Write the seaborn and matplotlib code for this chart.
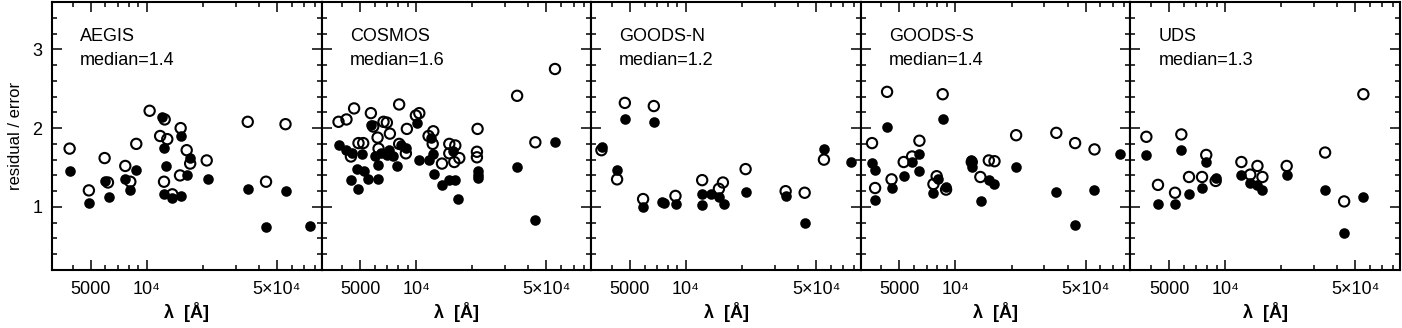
import pandas as pd
import seaborn as sns
import matplotlib.pyplot as plt
from matplotlib.ticker import FixedLocator, FixedFormatter, MultipleLocator, NullFormatter

# Fields and their median residual/error
fields = ["AEGIS", "COSMOS", "GOODS-N", "GOODS-S", "UDS"]
medians = [1.4, 1.6, 1.2, 1.4, 1.3]

# Values (wavelength in Angstrom, residual / error)
aegis_open_lam = [3855, 4892, 5943, 6194, 7674, 8166, 8790, 10370, 11810, 12490, 12900, 12390,
                  13730, 15220, 15100, 16400, 17120, 21010, 34900, 43760, 55670]
aegis_open_val = [1.74, 1.21, 1.62, 1.31, 1.52, 1.32, 1.80, 2.22, 1.90, 2.11, 1.86, 1.32,
                  1.16, 2.00, 1.40, 1.72, 1.55, 1.59, 2.08, 1.32, 2.05]
aegis_fill_lam = [3855, 4892, 5943, 6245, 7674, 8100, 8790, 12030, 12390, 12690, 12390, 13620,
                  15220, 15220, 16400, 17120, 21270, 34900, 43760, 55670, 75160]
aegis_fill_val = [1.45, 1.05, 1.33, 1.13, 1.36, 1.22, 1.47, 2.14, 1.75, 1.52, 1.17, 1.11,
                  1.14, 1.90, 1.40, 1.62, 1.36, 1.23, 0.74, 1.20, 0.76]

cosmos_open_lam = [3822, 4217, 4634, 4892, 5186, 4455, 5703, 5870, 6195, 6270, 6668, 6950,
                   7214, 8090, 8090, 8790, 8900, 9950, 10380, 11640, 12340, 12250, 13740,
                   15040, 15040, 16200, 16000, 17020, 21340, 21170, 21170, 34800, 43600, 55600]
cosmos_open_val = [2.08, 2.11, 2.25, 1.81, 1.81, 1.64, 2.19, 2.02, 1.88, 1.74, 2.08, 2.07,
                   1.93, 2.30, 1.80, 1.68, 1.99, 2.16, 2.19, 1.90, 1.96, 1.80, 1.55,
                   1.80, 1.68, 1.78, 1.57, 1.62, 1.99, 1.70, 1.63, 2.41, 1.82, 2.75]
cosmos_fill_lam = [3822, 4217, 4455, 4535, 4830, 4880, 5100, 5240, 5470, 5703, 6023, 6195,
                   6195, 6490, 6930, 7160, 7520, 7920, 8260, 8790, 10040, 10300, 11640, 12000,
                   12340, 12490, 13740, 15040, 15680, 16200, 16820, 21340, 21340, 21340,
                   34800, 43600, 55600]
cosmos_fill_val = [1.79, 1.72, 1.34, 1.68, 1.48, 1.23, 1.67, 1.46, 1.36, 2.04, 1.65, 1.53,
                   1.35, 1.68, 1.66, 1.72, 1.65, 1.52, 1.79, 1.75, 2.06, 1.59, 1.60, 1.88,
                   1.67, 1.42, 1.28, 1.34, 1.71, 1.34, 1.10, 1.45, 1.41, 1.37,
                   1.51, 0.84, 1.82]

goodsn_open_lam = [3518, 4270, 4700, 6725, 5890, 8790, 12230, 15040, 15810, 20930, 34340,
                   43450, 55150]
goodsn_open_val = [1.72, 1.35, 2.32, 2.28, 1.10, 1.14, 1.34, 1.23, 1.31, 1.48, 1.20,
                   1.18, 1.60]
goodsn_fill_lam = [3545, 4270, 4700, 6725, 5890, 7450, 7600, 8860, 12230, 12230, 13600,
                   15040, 16000, 20930, 34340, 43450, 55150, 76700]
goodsn_fill_val = [1.76, 1.47, 2.11, 2.08, 1.00, 1.06, 1.05, 1.04, 1.03, 1.17, 1.17,
                   1.12, 1.04, 1.19, 1.14, 0.79, 1.74, 1.57]

goodss_open_lam = [3562, 3700, 4290, 4535, 5270, 5845, 6400, 7613, 7920, 8535, 8900, 12230,
                   13600, 15100, 16200, 21170, 34800, 43900, 55800]
goodss_open_val = [1.81, 1.24, 2.46, 1.35, 1.57, 1.64, 1.84, 1.29, 1.39, 2.43, 1.22, 1.57,
                   1.38, 1.59, 1.58, 1.91, 1.94, 1.81, 1.73]
goodss_fill_lam = [3562, 3675, 3700, 4290, 4535, 5270, 5845, 6400, 6400, 7613, 8010, 8535,
                   8900, 12140, 12230, 13740, 15100, 16200, 21170, 34800, 43900, 55800, 76700]
goodss_fill_val = [1.56, 1.47, 1.09, 2.01, 1.24, 1.39, 1.57, 1.67, 1.46, 1.18, 1.36, 2.12,
                   1.25, 1.59, 1.51, 1.07, 1.34, 1.29, 1.51, 1.19, 0.77, 1.21, 1.67]

uds_open_lam = [3776, 4360, 5383, 5820, 6400, 7520, 7920, 8900, 12230, 13650, 14920, 15870,
                21420, 34450, 43600, 55300]
uds_open_val = [1.89, 1.28, 1.18, 1.92, 1.38, 1.38, 1.66, 1.33, 1.57, 1.41, 1.52, 1.38,
                1.52, 1.69, 1.07, 2.43]
uds_fill_lam = [3776, 4360, 5383, 5820, 6400, 7520, 7920, 8900, 12140, 13600, 14920, 15870,
                21420, 34450, 43600, 55300]
uds_fill_val = [1.66, 1.04, 1.04, 1.72, 1.16, 1.24, 1.57, 1.37, 1.41, 1.31, 1.28, 1.22,
                1.40, 1.21, 0.67, 1.13]

xtick_vals = [5000, 10000, 50000]
xtick_labels = ["5000", "10⁴", "5×10⁴"]

series = {
    "AEGIS": (aegis_open_lam, aegis_open_val, aegis_fill_lam, aegis_fill_val),
    "COSMOS": (cosmos_open_lam, cosmos_open_val, cosmos_fill_lam, cosmos_fill_val),
    "GOODS-N": (goodsn_open_lam, goodsn_open_val, goodsn_fill_lam, goodsn_fill_val),
    "GOODS-S": (goodss_open_lam, goodss_open_val, goodss_fill_lam, goodss_fill_val),
    "UDS": (uds_open_lam, uds_open_val, uds_fill_lam, uds_fill_val),
}

rows = []
for f in fields:
    ol, ov, fl, fv = series[f]
    rows += [(f, l, v, "open") for l, v in zip(ol, ov)]
    rows += [(f, l, v, "filled") for l, v in zip(fl, fv)]
df = pd.DataFrame(rows, columns=["field", "lam", "ratio", "kind"])

sns.set_style("ticks")
plt.rcParams["font.family"] = ["Liberation Sans", "DejaVu Sans"]
plt.rcParams["text.color"] = "black"
plt.rcParams["axes.labelcolor"] = "black"

fig, axes = plt.subplots(1, 5, figsize=(14.02, 3.28), dpi=100, sharey=True)
plt.subplots_adjust(left=52 / 1402, right=1400 / 1402, bottom=58 / 328, top=326 / 328, wspace=0)

for i, (ax, f) in enumerate(zip(axes, fields)):
    d = df[df["field"] == f]
    sns.scatterplot(data=d[d["kind"] == "filled"], x="lam", y="ratio", ax=ax,
                    color="black", s=58, linewidth=0, marker="o", zorder=3)
    sns.scatterplot(data=d[d["kind"] == "open"], x="lam", y="ratio", ax=ax,
                    facecolor="none", edgecolor="black", s=55, linewidth=1.5,
                    marker="o", zorder=4)
    ax.set_xscale("log")
    ax.set_xlim(3100, 87000)
    ax.set_ylim(0.2, 3.6)
    ax.xaxis.set_major_locator(FixedLocator(xtick_vals))
    ax.xaxis.set_major_formatter(FixedFormatter(xtick_labels))
    ax.xaxis.set_minor_locator(FixedLocator([3000, 4000, 6000, 7000, 8000, 9000,
                                             20000, 30000, 40000, 60000, 70000, 80000, 90000]))
    ax.xaxis.set_minor_formatter(NullFormatter())
    ax.yaxis.set_major_locator(FixedLocator([1, 2, 3]))
    ax.yaxis.set_minor_locator(MultipleLocator(0.2))
    ax.tick_params(which="both", direction="in", top=True, right=True, width=1.1,
                   labelsize=13, colors="black")
    ax.tick_params(which="major", length=7)
    ax.tick_params(which="minor", length=3.5)
    ax.tick_params(axis="x", pad=8)
    ax.tick_params(axis="y", pad=7)
    for sp in ax.spines.values():
        sp.set_linewidth(1.5)
        sp.set_color("black")
    ax.set_xlabel("λ  [Å]", fontsize=13, fontweight="bold", labelpad=3)
    ax.set_ylabel("")
    ax.text(0.104, 0.873, f, transform=ax.transAxes, fontsize=13, va="center")
    ax.text(0.104, 0.78, f"median={medians[i]}", transform=ax.transAxes, fontsize=13, va="center")

axes[0].set_ylabel("residual / error", fontsize=12, labelpad=7)

plt.savefig("out.png", dpi=100)
